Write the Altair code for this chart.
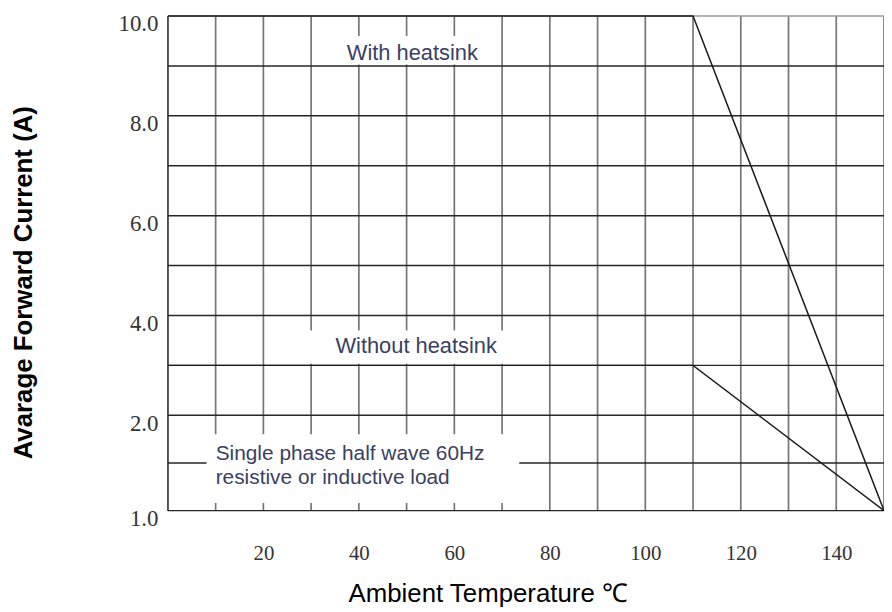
import altair as alt
import pandas as pd

# ---- data ----
series_names = ["With heatsink", "Without heatsink"]
temps = [0, 110, 150]
current_with = [10.0, 10.0, 1.0]
current_without = [3.0, 3.0, 1.0]

x_grid = [0, 10, 20, 30, 40, 50, 60, 70, 80, 90, 100, 110, 120, 130, 140, 150]
y_grid = [1.0, 1.5, 2.0, 3.0, 4.0, 5.0, 6.0, 7.0, 8.0, 9.0]
y_top = [10.0]
x_ticks = [20, 40, 60, 80, 100, 120, 140]
y_ticks = [1.0, 2.0, 4.0, 6.0, 8.0, 10.0]
y_breaks = [1.0, 2.0, 10.0]

note_text_center = ["With heatsink", "Without heatsink"]
note_center_x = [51.2, 52]
note_center_y = [9.26, 3.39]
note_text_left = ["Single phase half wave 60Hz", "resistive or inductive load"]
note_left_x = [10, 10]
note_left_y = [1.59, 1.34]

box_x1 = [31.5, 27.5, 8.1]
box_x2 = [69.0, 75.0, 73.6]
box_y1 = [9.03, 3.03, 1.08]
box_y2 = [9.60, 3.70, 1.80]

# ---- layout ----
W, H = 721, 498
y_range = [H, 402, 0]

xscale = alt.Scale(domain=[x_grid[0], x_grid[-1]], nice=False, zero=False)
yscale = alt.Scale(domain=y_breaks, range=y_range, nice=False, zero=False)

xaxis = alt.Axis(
    values=x_ticks, grid=False, ticks=False, domain=False,
    labelFont="Liberation Serif", labelFontSize=21, labelColor="#333333",
    labelPadding=43, labelBaseline="middle",
    title="Ambient Temperature ℃", titleFont="Liberation Sans",
    titleFontSize=26, titleFontWeight="normal", titleColor="#000000",
    titleX=322, titleY=84, titleAlign="center", titleBaseline="middle",
)
yaxis = alt.Axis(
    values=y_ticks, format=".1f", grid=False, ticks=False, domain=False,
    labelFont="Liberation Serif", labelFontSize=23, labelColor="#333333",
    labelPadding=10, labelOffset=8,
    title="Avarage Forward Current (A)", titleFont="Liberation Sans",
    titleFontSize=26, titleFontWeight="bold", titleColor="#000000",
    titleAngle=-90, titleX=-145, titleY=268, titleAlign="center",
    titleBaseline="middle",
)


def X(field):
    return alt.X(field, type="quantitative", scale=xscale, axis=xaxis)


def Y(field):
    return alt.Y(field, type="quantitative", scale=yscale, axis=yaxis)


vgrid_df = pd.DataFrame({"x": x_grid, "y": y_breaks[0], "y2": y_breaks[-1]})
hgrid_df = pd.DataFrame({"x": x_grid[0], "x2": x_grid[-1], "y": y_grid})
top_df = pd.DataFrame({"x": x_grid[0], "x2": x_grid[-1], "y": y_top})
left_df_border = pd.DataFrame({"x": [x_grid[0]], "y": y_breaks[0], "y2": y_breaks[-1]})

curves_df = pd.concat([
    pd.DataFrame({"x": temps, "y": current_with, "s": series_names[0]}),
    pd.DataFrame({"x": temps, "y": current_without, "s": series_names[1]}),
])
boxes_df = pd.DataFrame({"x": box_x1, "x2": box_x2, "y": box_y1, "y2": box_y2})
center_df = pd.DataFrame({"x": note_center_x, "y": note_center_y, "t": note_text_center})
left_df = pd.DataFrame({"x": note_left_x, "y": note_left_y, "t": note_text_left})

vgrid = alt.Chart(vgrid_df).mark_rule(color="#767676", strokeWidth=1.7).encode(
    x=X("x"), y=Y("y"), y2="y2"
)
left_border = alt.Chart(left_df_border).mark_rule(color="#4a4a4a", strokeWidth=1.7).encode(
    x=X("x"), y=Y("y"), y2="y2"
)
hgrid = alt.Chart(hgrid_df).mark_rule(color="#262626", strokeWidth=1.5).encode(
    x=X("x"), x2="x2", y=Y("y")
)
top_border = alt.Chart(top_df).mark_rule(color="#9a9a9a", strokeWidth=1.6).encode(
    x=X("x"), x2="x2", y=Y("y")
)
boxes = alt.Chart(boxes_df).mark_rect(color="white").encode(
    x=X("x"), x2="x2", y=Y("y"), y2="y2"
)
curves = alt.Chart(curves_df).mark_line(color="#1a1a1a", strokeWidth=1.5).encode(
    x=X("x"), y=Y("y"), detail="s:N"
)
center_txt = alt.Chart(center_df).mark_text(
    font="Liberation Sans", fontSize=22, color="#3a4063", align="center", baseline="middle"
).encode(x=X("x"), y=Y("y"), text="t:N")
left_txt = alt.Chart(left_df).mark_text(
    font="Liberation Sans", fontSize=21, color="#3a4063", align="left", baseline="middle"
).encode(x=X("x"), y=Y("y"), text="t:N")

chart = alt.layer(
    vgrid, left_border, hgrid, top_border, boxes, curves, center_txt, left_txt
).properties(
    width=W, height=H,
    autosize=alt.AutoSizeParams(type="none"),
    padding={"left": 161, "top": 6, "right": 0, "bottom": 100},
    background="white",
).configure_view(stroke=None)

chart.save("out.html", embed_options={"renderer": "svg", "actions": False})
